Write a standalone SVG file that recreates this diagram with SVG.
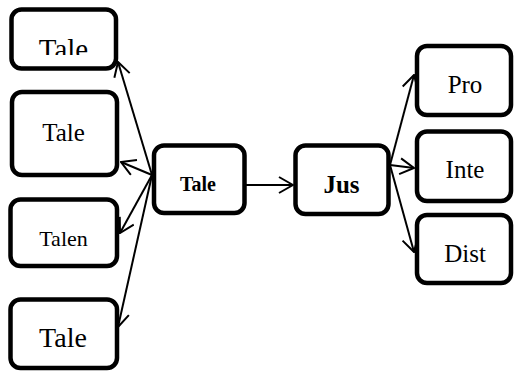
<svg xmlns="http://www.w3.org/2000/svg" width="514" height="372" viewBox="0 0 514 372">
<style>
.box{fill:#fff;stroke:#000;stroke-width:4.5}
.t{font-family:"Liberation Serif","Times New Roman",serif;fill:#000;text-anchor:middle}
.b{font-weight:bold}
.c{fill:none;stroke:#000;stroke-width:2;marker-end:url(#ah)}
</style>
<defs>
<marker id="ah" markerUnits="userSpaceOnUse" viewBox="0 0 16 18" refX="15" refY="9" markerWidth="16" markerHeight="18" orient="auto">
<path d="M1,1 L15,9 L1,17" fill="none" stroke="#000" stroke-width="2"/>
</marker>
<clipPath id="clip1"><rect x="0" y="0" width="130" height="55"/></clipPath>
</defs>
<g id="connectors">
<line class="c" x1="152" y1="175" x2="118" y2="62"/>
<line class="c" x1="152" y1="175" x2="121" y2="162"/>
<line class="c" x1="152" y1="175" x2="120" y2="233"/>
<line class="c" x1="152" y1="175" x2="118" y2="327"/>
<line class="c" x1="246" y1="185" x2="293" y2="185"/>
<line class="c" x1="390" y1="165" x2="414" y2="75"/>
<line class="c" x1="390" y1="165" x2="414" y2="168"/>
<line class="c" x1="390" y1="165" x2="414" y2="252"/>
</g>
<g id="n1"><rect class="box" x="11.5" y="9.5" width="104.5" height="59" rx="10"/><text class="t" x="63.5" y="59" font-size="29" clip-path="url(#clip1)">Tale</text></g>
<g id="n2"><rect class="box" x="12" y="92" width="105" height="83" rx="10"/><text class="t" x="63.5" y="141" font-size="25">Tale</text></g>
<g id="n3"><rect class="box" x="10.5" y="199.5" width="106.5" height="66.5" rx="10"/><text class="t" x="63.5" y="246" font-size="22">Talen</text></g>
<g id="n4"><rect class="box" x="10.5" y="299.5" width="106.5" height="68.5" rx="10"/><text class="t" x="63" y="347" font-size="28">Tale</text></g>
<g id="center"><rect class="box" x="154" y="145.5" width="90.5" height="67.5" rx="10"/><text class="t b" x="198" y="191" font-size="20">Tale</text></g>
<g id="jus"><rect class="box" x="295.5" y="145.5" width="93" height="68.5" rx="10"/><text class="t b" x="341.5" y="193" font-size="25">Jus</text></g>
<g id="pro"><rect class="box" x="417" y="46" width="94" height="69" rx="10"/><text class="t" x="465" y="93" font-size="25">Pro</text></g>
<g id="inte"><rect class="box" x="417" y="131.5" width="94" height="69.5" rx="10"/><text class="t" x="465" y="178" font-size="25">Inte</text></g>
<g id="dist"><rect class="box" x="417" y="215" width="94" height="68" rx="10"/><text class="t" x="465" y="262" font-size="25">Dist</text></g>
</svg>
